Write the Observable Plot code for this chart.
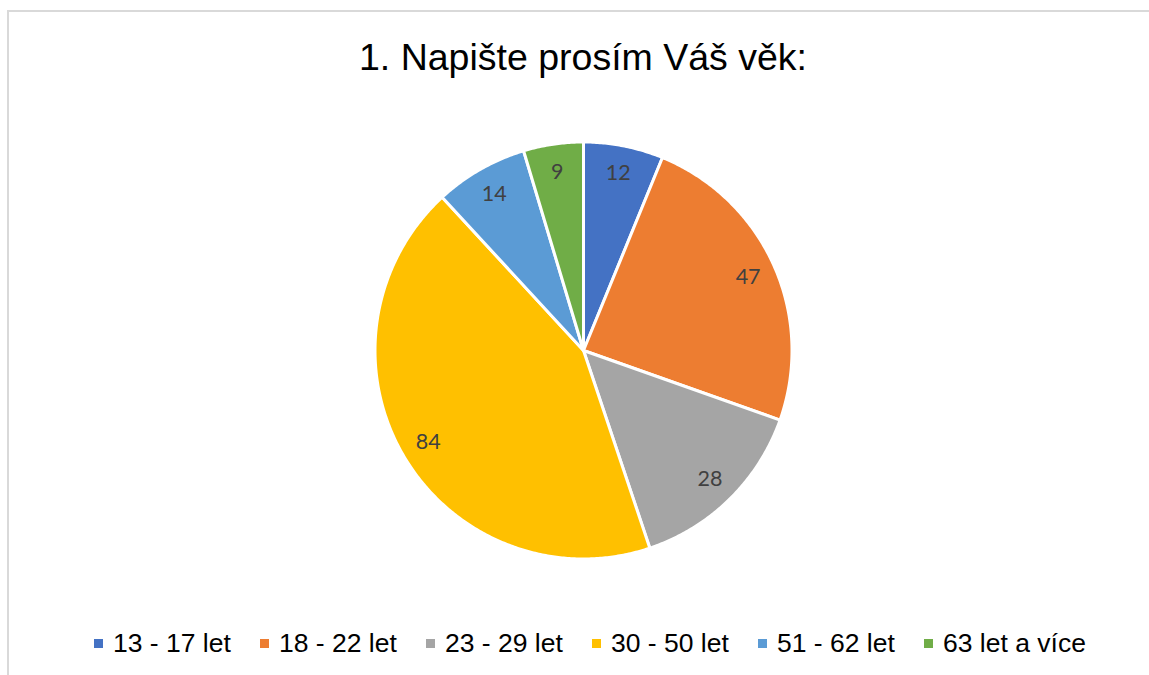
<!DOCTYPE html>
<html>
<head>
<meta charset="utf-8">
<script src="https://cdn.jsdelivr.net/npm/d3@7"></script>
<script src="https://cdn.jsdelivr.net/npm/@observablehq/plot@0.6"></script>
<style>
  html, body { margin: 0; padding: 0; background: #fff; }
  #wrap { position: relative; width: 1149px; height: 675px; overflow: hidden; background: #fff; }
  #frame { position: absolute; left: 7px; top: 10px; width: 1160px; height: 700px; border: 2px solid #d9d9d9; box-sizing: border-box; }
  #title { position: absolute; left: 0; top: 36px; width: 1166px; text-align: center; font-family: "Liberation Sans", Arial, sans-serif; font-size: 37.5px; color: #000; white-space: nowrap; }
  #chart { position: absolute; left: 0; top: 100px; }
  #legend { position: absolute; left: 94px; top: 628px; display: flex; font-family: "Liberation Sans", Arial, sans-serif; font-size: 26.5px; color: #000; }
  .item { width: 166px; display: flex; align-items: center; white-space: nowrap; }
  .sw { width: 9px; height: 9px; margin-right: 10px; }
</style>
</head>
<body>
<div id="wrap">
  <div id="frame"></div>
  <div id="title">1. Napište prosím Váš věk:</div>
  <div id="chart"></div>
  <div id="legend"></div>
</div>
<script>
const categories = ["13 - 17 let", "18 - 22 let", "23 - 29 let", "30 - 50 let", "51 - 62 let", "63 let a více"];
const values = [12, 47, 28, 84, 14, 9];
const colors = ["#4472C4", "#ED7D31", "#A5A5A5", "#FFC000", "#5B9BD5", "#70AD47"];

const total = d3.sum(values);
const slices = [];
const labels = [];
let acc = 0;
categories.forEach((c, i) => {
  const a0 = acc / total * 2 * Math.PI;
  acc += values[i];
  const a1 = acc / total * 2 * Math.PI;
  const n = Math.max(2, Math.ceil((a1 - a0) / (Math.PI / 360)));
  slices.push({cat: c, x: 0, y: 0});
  for (let k = 0; k <= n; k++) {
    const a = a0 + (a1 - a0) * k / n;
    slices.push({cat: c, x: Math.sin(a), y: Math.cos(a)});
  }
  slices.push({cat: c, x: 0, y: 0});
  const am = (a0 + a1) / 2;
  labels.push({cat: c, v: values[i], x: 0.865 * Math.sin(am), y: 0.865 * Math.cos(am)});
});

const W = 1149, H = 480;
const plot = Plot.plot({
  width: W,
  height: H,
  marginLeft: 374.5,
  marginRight: 357.5,
  marginTop: 41.5,
  marginBottom: 21.5,
  x: {domain: [-1, 1], axis: null},
  y: {domain: [-1, 1], axis: null},
  color: {domain: categories, range: colors},
  style: {background: "transparent", overflow: "visible"},
  marks: [
    Plot.line(slices, {x: "x", y: "y", z: "cat", fill: "cat", stroke: "#fff", strokeWidth: 3, strokeLinejoin: "round", curve: "linear"}),
    Plot.text(labels, {x: "x", y: "y", text: d => String(d.v), fill: "#404040", fontSize: 21.5, fontFamily: "Lato, 'Open Sans', sans-serif", textAnchor: "middle"})
  ]
});
document.getElementById("chart").appendChild(plot);

const legend = document.getElementById("legend");
categories.forEach((c, i) => {
  const it = document.createElement("div");
  it.className = "item";
  const sw = document.createElement("span");
  sw.className = "sw";
  sw.style.background = colors[i];
  const t = document.createElement("span");
  t.textContent = c;
  it.appendChild(sw);
  it.appendChild(t);
  legend.appendChild(it);
});
</script>
</body>
</html>
